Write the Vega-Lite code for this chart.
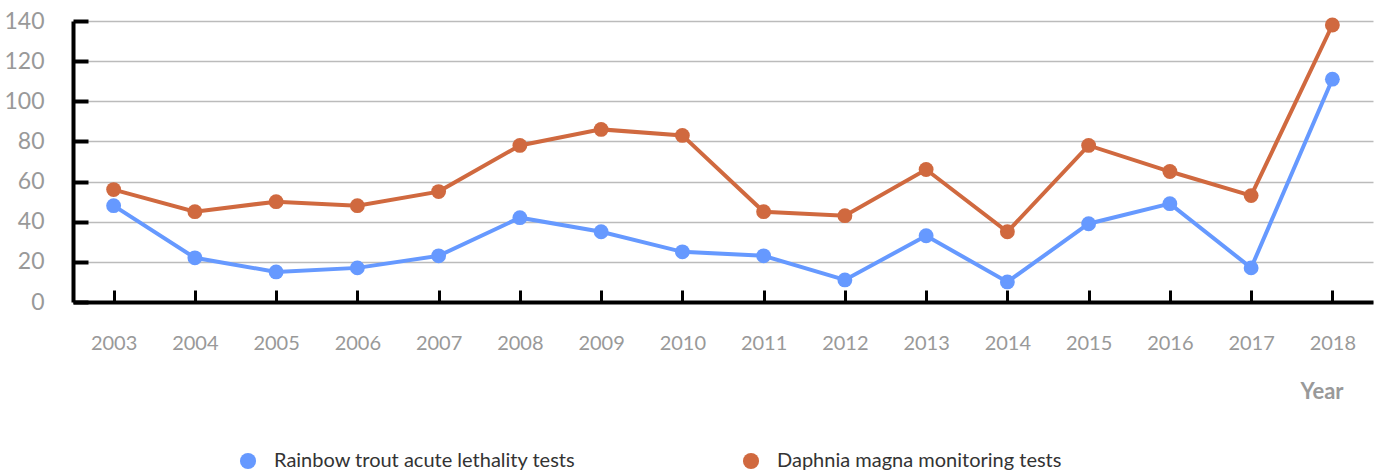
{
  "$schema": "https://vega.github.io/schema/vega-lite/v6.json",
  "width": 1300,
  "height": 281,
  "autosize": {"type": "none"},
  "padding": {"left": 73, "top": 21, "right": 6, "bottom": 174},
  "background": "white",
  "config": {"view": {"stroke": null}, "font": "Lato"},
  "data": {
    "values": [
      {"year": "2003", "series": "Rainbow trout acute lethality tests", "value": 48},
      {"year": "2004", "series": "Rainbow trout acute lethality tests", "value": 22},
      {"year": "2005", "series": "Rainbow trout acute lethality tests", "value": 15},
      {"year": "2006", "series": "Rainbow trout acute lethality tests", "value": 17},
      {"year": "2007", "series": "Rainbow trout acute lethality tests", "value": 23},
      {"year": "2008", "series": "Rainbow trout acute lethality tests", "value": 42},
      {"year": "2009", "series": "Rainbow trout acute lethality tests", "value": 35},
      {"year": "2010", "series": "Rainbow trout acute lethality tests", "value": 25},
      {"year": "2011", "series": "Rainbow trout acute lethality tests", "value": 23},
      {"year": "2012", "series": "Rainbow trout acute lethality tests", "value": 11},
      {"year": "2013", "series": "Rainbow trout acute lethality tests", "value": 33},
      {"year": "2014", "series": "Rainbow trout acute lethality tests", "value": 10},
      {"year": "2015", "series": "Rainbow trout acute lethality tests", "value": 39},
      {"year": "2016", "series": "Rainbow trout acute lethality tests", "value": 49},
      {"year": "2017", "series": "Rainbow trout acute lethality tests", "value": 17},
      {"year": "2018", "series": "Rainbow trout acute lethality tests", "value": 111},
      {"year": "2003", "series": "Daphnia magna monitoring tests", "value": 56},
      {"year": "2004", "series": "Daphnia magna monitoring tests", "value": 45},
      {"year": "2005", "series": "Daphnia magna monitoring tests", "value": 50},
      {"year": "2006", "series": "Daphnia magna monitoring tests", "value": 48},
      {"year": "2007", "series": "Daphnia magna monitoring tests", "value": 55},
      {"year": "2008", "series": "Daphnia magna monitoring tests", "value": 78},
      {"year": "2009", "series": "Daphnia magna monitoring tests", "value": 86},
      {"year": "2010", "series": "Daphnia magna monitoring tests", "value": 83},
      {"year": "2011", "series": "Daphnia magna monitoring tests", "value": 45},
      {"year": "2012", "series": "Daphnia magna monitoring tests", "value": 43},
      {"year": "2013", "series": "Daphnia magna monitoring tests", "value": 66},
      {"year": "2014", "series": "Daphnia magna monitoring tests", "value": 35},
      {"year": "2015", "series": "Daphnia magna monitoring tests", "value": 78},
      {"year": "2016", "series": "Daphnia magna monitoring tests", "value": 65},
      {"year": "2017", "series": "Daphnia magna monitoring tests", "value": 53},
      {"year": "2018", "series": "Daphnia magna monitoring tests", "value": 138}
    ]
  },
  "encoding": {
    "x": {
      "field": "year",
      "type": "ordinal",
      "scale": {"type": "point", "padding": 0.5},
      "axis": {
        "title": "Year",
        "labelAngle": 0,
        "grid": false,
        "domainColor": "black",
        "domainWidth": 4,
        "tickColor": "black",
        "tickWidth": 3,
        "tickSize": -12,
        "labelFontSize": 20,
        "labelColor": "#999999",
        "labelPadding": 43,
        "titleFontSize": 22,
        "titleFontWeight": "bold",
        "titleColor": "#999999",
        "titleX": 1270,
        "titleY": 96,
        "titleAlign": "right",
        "titleBaseline": "alphabetic"
      }
    },
    "y": {
      "field": "value",
      "type": "quantitative",
      "scale": {"domain": [0, 140], "nice": false},
      "axis": {
        "title": null,
        "values": [0, 20, 40, 60, 80, 100, 120, 140],
        "domainColor": "black",
        "domainWidth": 4,
        "tickColor": "black",
        "tickWidth": 4,
        "tickSize": -15,
        "labelFontSize": 23,
        "labelColor": "#999999",
        "labelPadding": 44,
        "gridColor": "#bbbbbb",
        "gridWidth": 1.5
      }
    },
    "color": {
      "field": "series",
      "type": "nominal",
      "scale": {
        "domain": ["Rainbow trout acute lethality tests", "Daphnia magna monitoring tests"],
        "range": ["#6699FF", "#D0693F"]
      },
      "legend": {
        "title": null,
        "orient": "none",
        "legendX": 165,
        "legendY": 430,
        "direction": "horizontal",
        "symbolType": "circle",
        "symbolSize": 260,
        "symbolOpacity": 1,
        "symbolStrokeWidth": 0,
        "labelFontSize": 20,
        "labelColor": "#333333",
        "labelOffset": 16,
        "columnPadding": 165,
        "labelLimit": 0
      }
    }
  },
  "layer": [
    {
      "mark": {"type": "line", "strokeWidth": 4}
    },
    {
      "mark": {"type": "circle", "size": 220, "opacity": 1}
    }
  ]
}
